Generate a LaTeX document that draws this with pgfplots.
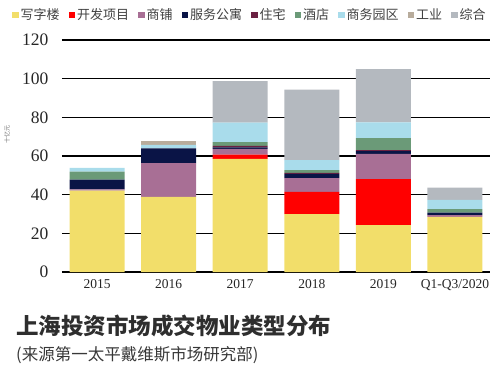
\documentclass[border=0pt]{standalone}
\usepackage{fontspec}
\setmainfont{Liberation Serif}
\newfontfamily\cjk{Noto Sans CJK SC}
\usepackage{pgfplots}
\usepackage{pgfplotstable}
\pgfplotsset{compat=1.18}
\definecolor{cOff}{RGB}{242,222,106}
\definecolor{cDev}{RGB}{255,0,0}
\definecolor{cShop}{RGB}{168,111,149}
\definecolor{cApt}{RGB}{10,20,70}
\definecolor{cRes}{RGB}{107,33,66}
\definecolor{cHotel}{RGB}{107,154,120}
\definecolor{cPark}{RGB}{169,220,235}
\definecolor{cInd}{RGB}{184,172,156}
\definecolor{cMix}{RGB}{180,185,191}
\pgfplotstableread{
x off dev shop apt res hotel park ind mix
0 42.1 0 0.7 5.0 0 4.1 1.9 0 0
1 38.9 0 17.4 7.6 0 0 1.9 2.1 0
2 58.5 2.2 3.0 0.8 0.8 1.9 10.0 0 21.5
3 29.9 11.6 7.0 2.3 0.5 1.4 5.2 0 36.4
4 24.2 23.8 13.1 1.4 0.6 6.2 8.1 0 27.6
5 28.5 0 0.9 1.3 0 1.8 4.8 0 6.4
}\datatable
\begin{document}
\begin{tikzpicture}
\useasboundingbox (0pt,0pt) rectangle (500pt,370pt);
\begin{axis}[
  at={(62pt,98pt)}, anchor=south west,
  scale only axis, width=428pt, height=232pt,
  ybar stacked, bar width=55pt,
  xmin=-0.49, xmax=5.49, ymin=0, ymax=120,
  ytick={0,20,...,120},
  xtick={0,1,2,3,4,5},
  xticklabels={2015,2016,2017,2018,2019,Q1-Q3/2020},
  /pgf/number format/assume math mode=true,
  axis line style={draw=none},
  major tick length=0pt,
  ymajorgrids, major grid style={black, line width=1.1pt},
  yticklabel style={font=\fontsize{17.5}{18}\selectfont, text=black!85, xshift=-10pt},
  xticklabel style={font=\fontsize{13.5}{15}\selectfont, text=black!85, yshift=-4pt},
  every axis plot post/.append style={draw=none, legend image code/.code={\fill[##1] (0pt,-3.2pt) rectangle (6.5pt,3.3pt);}},
  legend columns=9,
  legend style={draw=none, fill=none, at={(0.439,1.108)}, anchor=center,
    font=\cjk\fontsize{13}{15}\selectfont, text=black!75,
    /tikz/every even column/.append style={column sep=7pt},
    /tikz/every odd column/.append style={column sep=0pt},
    inner sep=0pt, cells={anchor=west}},
]
\addplot[fill=cOff] table[x=x,y=off]{\datatable};
\addplot[fill=cDev] table[x=x,y=dev]{\datatable};
\addplot[fill=cShop] table[x=x,y=shop]{\datatable};
\addplot[fill=cApt] table[x=x,y=apt]{\datatable};
\addplot[fill=cRes] table[x=x,y=res]{\datatable};
\addplot[fill=cHotel] table[x=x,y=hotel]{\datatable};
\addplot[fill=cPark] table[x=x,y=park]{\datatable};
\addplot[fill=cInd] table[x=x,y=ind]{\datatable};
\addplot[fill=cMix] table[x=x,y=mix]{\datatable};
\legend{写字楼,开发项目,商铺,服务公寓,住宅,酒店,商务园区,工业,综合}
\end{axis}
\node[rotate=90, text=black!55, font=\cjk\fontsize{6}{7}\selectfont] at (7pt,235pt) {十亿元};
\node[anchor=west, inner sep=0pt, text=black!82, font=\cjk\bfseries\fontsize{22.5}{24}\selectfont] at (16pt,44pt) {上海投资市场成交物业类型分布};
\node[anchor=west, inner sep=0pt, text=black!78, font=\cjk\fontsize{16.5}{18}\selectfont] at (16pt,14.5pt) {(来源第一太平戴维斯市场研究部)};
\end{tikzpicture}
\end{document}
